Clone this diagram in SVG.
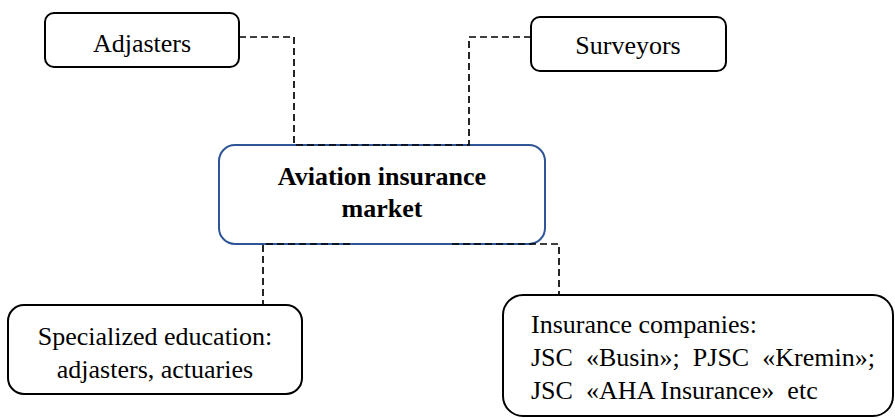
<svg xmlns="http://www.w3.org/2000/svg" width="895" height="418" viewBox="0 0 895 418">
<style>
.box{fill:#fff;stroke:#000;stroke-width:2}
.main{fill:#fff;stroke:#2F5597;stroke-width:2}
text{font-family:'Liberation Serif','DejaVu Serif',serif;font-size:26px;fill:#000}
.b{font-weight:bold}
.c{fill:none;stroke:#000;stroke-width:1.7;stroke-dasharray:7 4}
</style>
<rect width="895" height="418" fill="#fff"/>
<g id="n-central">
<rect class="main" x="219" y="145" width="326" height="99" rx="16"/>
<text class="b" x="382" y="185" text-anchor="middle">Aviation insurance</text>
<text class="b" x="382" y="217" text-anchor="middle">market</text>
</g>
<g id="n-adjasters">
<rect class="box" x="45" y="13" width="194" height="54" rx="9"/>
<text x="142" y="52" text-anchor="middle">Adjasters</text>
</g>
<g id="n-surveyors">
<rect class="box" x="531" y="17" width="195" height="54" rx="9"/>
<text x="628" y="54" text-anchor="middle">Surveyors</text>
</g>
<g id="n-education">
<rect class="box" x="8" y="305" width="294" height="89" rx="16"/>
<text x="155" y="345" text-anchor="middle">Specialized education:</text>
<text x="155" y="378" text-anchor="middle">adjasters, actuaries</text>
</g>
<g id="n-companies">
<rect class="box" x="503" y="295" width="390" height="121" rx="20"/>
<text x="531" y="333">Insurance companies:</text>
<text x="531" y="366" xml:space="preserve">JSC  «Busin»;  PJSC  «Kremin»;</text>
<text x="531" y="399" xml:space="preserve">JSC  «AHA Insurance»  etc</text>
</g>
<g id="connectors">
<polyline class="c" points="239,37 294,37 294,145 382,145"/>
<polyline class="c" points="531,37 469,37 469,145 382,145"/>
<polyline class="c" points="350,244 263,244 263,305 177,305"/>
<polyline class="c" points="452,244 559,244 559,295 667,295"/>
</g>
</svg>
